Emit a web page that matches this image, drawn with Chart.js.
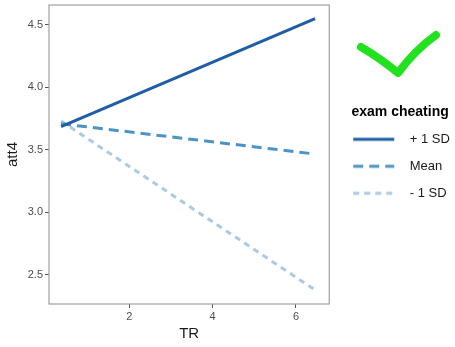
<!DOCTYPE html>
<html>
<head>
<meta charset="utf-8">
<script src="https://cdn.jsdelivr.net/npm/chart.js@4.4.1/dist/chart.umd.min.js"></script>
<style>
  html, body { margin: 0; padding: 0; background: #fff; }
  #wrap { position: relative; width: 455px; height: 347px; }
  #check { position: absolute; left: 0; top: 0; pointer-events: none; }
</style>
</head>
<body>
<div id="wrap">
  <canvas id="grafico" width="455" height="347"></canvas>
  <svg id="check" width="455" height="347">
    <path d="M361 47 Q380 58 398 73 Q415 50 436 35" fill="none" stroke="#22e11f" stroke-width="8" stroke-linecap="round" stroke-linejoin="round"/>
  </svg>
</div>
<script>
  // valores
  const valoresTR = [0.36, 6.46]
  const maisUmDP = [3.686, 4.548]
  const media = [3.708, 3.466]
  const menosUmDP = [3.73, 2.38]
  const nomesSeries = ['+ 1 SD', 'Mean', '- 1 SD']
  const ticksX = [2, 4, 6]
  const ticksY = [2.5, 3.0, 3.5, 4.0, 4.5]

  const cores = ['#1f5da6', '#4b94c6', '#a8cbe3']
  const tracos = [[], [10, 6], [6, 5]]

  function montarPontos(valores) {
    return valores.map((y, i) => ({ x: valoresTR[i], y: y }))
  }

  //amostra de linha para a legenda (canvas pequeno usado como pointStyle)
  function criarAmostra(cor, traco) {
    const c = document.createElement('canvas')
    c.width = 60
    c.height = 6
    const g = c.getContext('2d')
    g.strokeStyle = cor
    g.lineWidth = 3
    g.setLineDash(traco)
    g.beginPath()
    g.moveTo(10, 3)
    g.lineTo(51, 3)
    g.stroke()
    return c
  }
  const amostras = cores.map((cor, i) => criarAmostra(cor, tracos[i]))

  //moldura em volta da área do gráfico + alarga a caixa da legenda p/ centralizar o título
  const moldura = {
    id: 'moldura',
    afterLayout(chart) {
      const l = chart.legend
      l.right = 471
      l.width = l.right - l.left
    },
    afterDraw(chart) {
      const a = chart.chartArea
      const c = chart.ctx
      c.save()
      c.strokeStyle = '#a0a0a0'
      c.lineWidth = 1.2
      c.strokeRect(a.left, a.top, a.right - a.left, a.bottom - a.top)
      c.restore()
    }
  }

  const series = [maisUmDP, media, menosUmDP]

  const ctx = document.getElementById('grafico')
  new Chart(ctx, {
    type: 'line',
    data: {
      datasets: series.map((valores, i) => ({
        label: nomesSeries[i],
        data: montarPontos(valores),
        borderColor: cores[i],
        borderWidth: 3,
        borderDash: tracos[i],
        pointRadius: 0
      }))
    },
    options: {
      responsive: false,
      animation: false,
      layout: { padding: { top: 5, right: 16, left: 0, bottom: 0 } },
      plugins: {
        tooltip: { enabled: false },
        legend: {
          position: 'right',
          align: 'start',
          title: {
            display: true,
            text: 'exam cheating',
            color: '#000',
            font: { family: 'Liberation Sans', size: 14, weight: 'bold' },
            padding: { top: 100, bottom: -3 }
          },
          labels: {
            usePointStyle: true,
            pointStyleWidth: 60,
            padding: 14,
            color: '#1a1a1a',
            font: { family: 'Liberation Sans', size: 13 },
            generateLabels: (chart) => {
              const itens = Chart.defaults.plugins.legend.labels.generateLabels(chart)
              itens.forEach((item, i) => { item.pointStyle = amostras[i] })
              return itens
            }
          }
        }
      },
      scales: {
        x: {
          type: 'linear',
          min: 0.07,
          max: 6.8,
          afterBuildTicks: (s) => { s.ticks = ticksX.map(v => ({ value: v })) },
          afterFit: (s) => { s.height = 43; s.paddingLeft = 0; s.paddingRight = 0 },
          grid: { drawOnChartArea: false, drawTicks: true, tickLength: 4, color: '#555' },
          border: { display: false },
          ticks: { color: '#4d4d4d', font: { family: 'Liberation Sans', size: 11 }, padding: 2 },
          title: { display: true, text: 'TR', color: '#1a1a1a', font: { family: 'Liberation Sans', size: 15 }, padding: { top: 0 } }
        },
        y: {
          type: 'linear',
          min: 2.268,
          max: 4.657,
          afterBuildTicks: (s) => { s.ticks = ticksY.map(v => ({ value: v })) },
          afterFit: (s) => { s.width = 49; s.paddingTop = 0; s.paddingBottom = 0 },
          grid: { drawOnChartArea: false, drawTicks: true, tickLength: 4, color: '#555' },
          border: { display: false },
          ticks: { color: '#4d4d4d', font: { family: 'Liberation Sans', size: 11 }, padding: 2, callback: (v) => v.toFixed(1) },
          title: { display: true, text: 'att4', color: '#1a1a1a', font: { family: 'Liberation Sans', size: 15 }, padding: { bottom: 2 } }
        }
      }
    },
    plugins: [moldura]
  })
</script>
</body>
</html>
